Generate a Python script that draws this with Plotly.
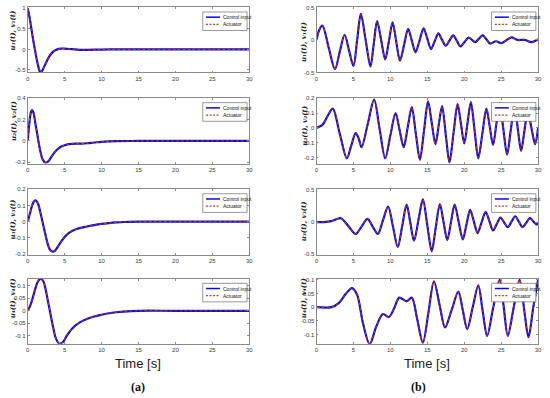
import plotly.graph_objects as go

W, H = 550, 398

# ---------------- data ----------------
time_ticks = [0, 5, 10, 15, 20, 25, 30]

# (a) column
a1_t = [0, 0.25, 0.5, 0.75, 1.0, 1.25, 1.5, 1.7, 1.9, 2.2, 2.6, 3.0, 3.5, 4.0, 4.5, 5.0, 6.0, 7.0, 8.0, 10, 12, 15, 20, 25, 30]
a1_v = [1.0, 0.78, 0.5, 0.22, -0.03, -0.27, -0.46, -0.555, -0.54, -0.43, -0.28, -0.15, -0.05, 0.0, 0.02, 0.02, 0.005, -0.01, -0.012, -0.004, 0, 0, 0, 0, 0]

a2_t = [0, 0.2, 0.4, 0.6, 0.8, 1.0, 1.3, 1.6, 2.0, 2.4, 2.8, 3.2, 3.6, 4.0, 4.5, 5.0, 5.5, 6.0, 7.0, 8.0, 9.0, 10, 11, 12, 15, 20, 30]
a2_v = [0, 0.15, 0.26, 0.29, 0.26, 0.18, 0.06, -0.06, -0.17, -0.205, -0.19, -0.15, -0.11, -0.08, -0.055, -0.04, -0.03, -0.027, -0.025, -0.022, -0.015, -0.008, -0.004, -0.002, 0, 0, 0]

a3_t = [0, 0.3, 0.6, 0.9, 1.1, 1.4, 1.7, 2.0, 2.4, 2.8, 3.1, 3.4, 3.7, 4.0, 4.5, 5.0, 5.5, 6.0, 7.0, 8.0, 9.0, 10, 11, 12, 13, 15, 20, 30]
a3_v = [0, 0.05, 0.1, 0.128, 0.13, 0.11, 0.06, 0.0, -0.08, -0.15, -0.178, -0.185, -0.178, -0.16, -0.125, -0.095, -0.072, -0.057, -0.04, -0.03, -0.021, -0.014, -0.009, -0.005, -0.002, 0, 0, 0]

a4_t = [0, 0.4, 0.8, 1.2, 1.5, 1.8, 2.1, 2.4, 2.7, 3.0, 3.4, 3.8, 4.3, 4.8, 5.3, 6.0, 7.0, 8.0, 9.0, 10, 11, 12, 13, 15, 20, 30]
a4_v = [0, 0.025, 0.065, 0.105, 0.123, 0.128, 0.12, 0.09, 0.045, 0.0, -0.06, -0.11, -0.133, -0.125, -0.1, -0.072, -0.048, -0.033, -0.023, -0.016, -0.01, -0.006, -0.003, 0, 0, 0]

# (b) column
b1_t = [0, 0.35, 0.8, 1.65, 2.5, 3.15, 3.8, 4.4, 5.0, 5.5, 6.0, 6.65, 7.3, 7.75, 8.2, 8.75, 9.3, 9.8, 10.3, 10.8, 11.3, 11.85, 12.4, 12.9, 13.4, 13.95, 14.5, 15.0, 15.5, 16.0, 16.5, 17.0, 17.5, 18.0, 18.5, 19.0, 19.5, 20.05, 20.6, 21.05, 21.5, 22.0, 22.5, 23.0, 23.5, 24.3, 25.0, 25.7, 26.4, 27.2, 28.2, 29.1, 30]
b1_v = [0, 0.15, 0.22, -0.12, -0.45, -0.18, 0.08, -0.16, -0.40, 0.0, 0.40, 0.0, -0.41, -0.06, 0.29, 0.0, -0.30, -0.02, 0.27, -0.03, -0.32, -0.08, 0.17, -0.01, -0.19, -0.01, 0.18, 0.02, -0.14, -0.02, 0.10, 0.0, -0.09, -0.01, 0.07, -0.015, -0.10, -0.03, 0.035, 0.0, -0.035, 0.02, 0.07, 0.01, -0.055, -0.02, -0.05, -0.005, 0.04, 0.0, 0.0, -0.035, 0.01]

b2_t = [0, 0.8, 1.5, 2.2, 3.15, 4.1, 4.7, 5.3, 5.7, 6.1, 6.95, 7.8, 8.55, 9.3, 10.0, 10.7, 11.25, 11.8, 12.35, 12.9, 13.45, 14.0, 14.55, 15.1, 15.6, 16.1, 16.55, 17.0, 17.5, 18.0, 18.55, 19.1, 19.55, 20.0, 20.45, 20.9, 21.4, 21.9, 22.45, 23.0, 23.45, 23.9, 24.35, 24.8, 25.3, 25.8, 26.3, 26.8, 27.25, 27.7, 28.15, 28.6, 29.1, 29.6, 30]
b2_v = [0, 0.02, 0.08, 0.13, -0.04, -0.205, -0.12, -0.035, -0.07, -0.13, 0.03, 0.19, -0.01, -0.205, -0.05, 0.10, -0.015, -0.13, 0.005, 0.14, -0.04, -0.215, -0.02, 0.178, 0.035, -0.11, 0.02, 0.147, -0.045, -0.233, -0.035, 0.16, 0.03, -0.104, 0.035, 0.173, -0.015, -0.205, -0.04, 0.13, 0.01, -0.115, 0.025, 0.165, -0.01, -0.18, -0.015, 0.15, -0.005, -0.155, -0.02, 0.11, 0.0, -0.11, 0.0]

b3_t = [0, 1.0, 2.0, 2.6, 3.3, 4.3, 5.3, 6.1, 6.9, 7.6, 8.3, 9.0, 9.7, 10.35, 11.0, 11.6, 12.2, 12.7, 13.2, 13.8, 14.4, 15.0, 15.6, 16.15, 16.7, 17.2, 17.7, 18.2, 18.7, 19.25, 19.8, 20.3, 20.8, 21.3, 21.8, 22.35, 22.9, 23.4, 23.9, 24.4, 24.9, 25.4, 25.9, 26.4, 26.9, 27.4, 27.9, 28.4, 28.9, 29.35, 29.8, 30]
b3_v = [0, 0.0, 0.015, 0.04, 0.06, -0.06, -0.185, -0.07, 0.05, -0.07, -0.185, 0.03, 0.24, -0.07, -0.385, -0.06, 0.27, -0.01, -0.29, 0.03, 0.35, -0.05, -0.45, -0.08, 0.28, 0.0, -0.28, -0.005, 0.27, 0.0, -0.27, -0.04, 0.19, 0.01, -0.17, -0.005, 0.16, 0.015, -0.13, -0.03, 0.07, -0.005, -0.08, 0.005, 0.09, 0.005, -0.08, -0.01, 0.06, 0.01, -0.04, -0.01]

b4_t = [0, 2.0, 3.0, 4.0, 4.8, 5.5, 6.3, 7.2, 8.1, 9.0, 9.8, 10.5, 11.2, 12.2, 12.9, 13.6, 14.4, 15.15, 15.9, 16.65, 17.4, 18.3, 19.2, 19.8, 20.4, 21.15, 21.9, 22.5, 23.1, 23.9, 24.8, 25.35, 25.9, 26.7, 27.5, 28.1, 28.7, 29.35, 30]
b4_v = [0, 0.0, 0.015, 0.05, 0.07, 0.045, -0.06, -0.135, -0.07, -0.025, -0.036, -0.005, 0.035, 0.022, 0.035, -0.04, -0.13, -0.02, 0.095, 0.01, -0.074, -0.01, 0.057, -0.01, -0.08, 0.0, 0.08, -0.015, -0.105, -0.005, 0.1, 0.0, -0.105, 0.0, 0.1, -0.005, -0.11, 0.0, 0.1]

# actuator output coincides with the control input in every panel
a1_act, a2_act, a3_act, a4_act = list(a1_v), list(a2_v), list(a3_v), list(a4_v)
b1_act, b2_act, b3_act, b4_act = list(b1_v), list(b2_v), list(b3_v), list(b4_v)

a1_yticks = [-0.5, 0, 0.5, 1]
a1_ylabels = ["-0.5", "0", "0.5", "1"]
a2_yticks = [-0.2, 0, 0.2, 0.4]
a2_ylabels = ["-0.2", "0", "0.2", "0.4"]
a3_yticks = [-0.2, -0.1, 0, 0.1, 0.2]
a3_ylabels = ["-0.2", "-0.1", "0", "0.1", "0.2"]
a4_yticks = [-0.1, -0.05, 0, 0.05, 0.1]
a4_ylabels = ["-0.1", "-0.05", "0", "0.05", "0.1"]
b1_yticks = [-0.5, 0, 0.5]
b1_ylabels = ["-0.5", "0", "0.5"]
b2_yticks = [-0.2, -0.1, 0, 0.1, 0.2]
b2_ylabels = ["-0.2", "-0.1", "0", "0.1", "0.2"]
b3_yticks = [-0.5, 0, 0.5]
b3_ylabels = ["-0.5", "0", "0.5"]
b4_yticks = [-0.1, -0.05, 0, 0.05, 0.1]
b4_ylabels = ["-0.1", "-0.05", "0", "0.05", "0.1"]

series_names = ["Control input", "Actuator"]
y_titles = ["u₁(t), v₁(t)", "u₂(t), v₂(t)", "u₃(t), v₃(t)", "u₄(t), v₄(t)"]

# ---------------- layout helpers ----------------
panels = [
    (0, 0, a1_t, a1_v, a1_act, a1_yticks, a1_ylabels, [-0.56, 1.02], 0),
    (0, 1, a2_t, a2_v, a2_act, a2_yticks, a2_ylabels, [-0.212, 0.402], 1),
    (0, 2, a3_t, a3_v, a3_act, a3_yticks, a3_ylabels, [-0.203, 0.2], 2),
    (0, 3, a4_t, a4_v, a4_act, a4_yticks, a4_ylabels, [-0.133, 0.129], 3),
    (1, 0, b1_t, b1_v, b1_act, b1_yticks, b1_ylabels, [-0.5, 0.5], 0),
    (1, 1, b2_t, b2_v, b2_act, b2_yticks, b2_ylabels, [-0.24, 0.201], 1),
    (1, 2, b3_t, b3_v, b3_act, b3_yticks, b3_ylabels, [-0.505, 0.51], 2),
    (1, 3, b4_t, b4_v, b4_act, b4_yticks, b4_ylabels, [-0.134, 0.104], 3),
]

col_px = [(26, 250), (318, 542)]
row_px = [(4.5, 70.5), (96.5, 163), (189, 255.5), (280, 346)]
ylab_x = [11, 305]
ylab_y = [[28, 120, 220, 300], [40, 125, 222, 300]]

BLUE = "#0a0ad8"
RED = "#c0401a"
AX = "#8a8a8a"
TICKF = dict(family="Liberation Sans, Arial, sans-serif", size=6, color="#3a3a3a")

fig = go.Figure()
shapes, annotations = [], []
layout_axes = {}

for i, (col, row, t, u, act, yt, yl, yr, k) in enumerate(panels):
    n = i + 1
    sfx = "" if n == 1 else str(n)
    xa, ya = "x" + sfx, "y" + sfx
    fig.add_trace(go.Scatter(x=t, y=u, xaxis=xa, yaxis=ya, mode="lines", name=series_names[0],
                             line=dict(color=BLUE, width=2.2, shape="spline", smoothing=0.9),
                             showlegend=False))
    fig.add_trace(go.Scatter(x=t, y=act, xaxis=xa, yaxis=ya, mode="lines", name=series_names[1],
                             line=dict(color=RED, width=1.0, dash="3px,2px", shape="spline", smoothing=0.9),
                             showlegend=False))
    x0, x1 = col_px[col]
    y0, y1 = row_px[row]
    common = dict(showline=True, linecolor=AX, linewidth=0.8, mirror="ticks", ticks="inside",
                  ticklen=2, tickcolor=AX, tickwidth=0.6, showgrid=False, zeroline=False,
                  tickfont=TICKF)
    layout_axes["xaxis" + sfx] = dict(domain=[x0 / W, x1 / W], range=[0, 30], anchor=ya,
                                      tickvals=time_ticks, ticktext=[str(v) for v in time_ticks], **common)
    layout_axes["yaxis" + sfx] = dict(domain=[1 - y1 / H, 1 - y0 / H], range=yr, anchor=xa,
                                      tickvals=yt, ticktext=yl, **common)

    # legend box (drawn in axis-domain coordinates)
    xd, yd = xa + " domain", ya + " domain"
    shapes.append(dict(type="rect", xref=xd, yref=yd, x0=0.79, x1=0.99, y0=0.645, y1=0.93,
                       line=dict(color="#555555", width=0.6), fillcolor="white", layer="above"))
    shapes.append(dict(type="line", xref=xd, yref=yd, x0=0.805, x1=0.868, y0=0.85, y1=0.85,
                       line=dict(color=BLUE, width=1.5), layer="above"))
    shapes.append(dict(type="line", xref=xd, yref=yd, x0=0.805, x1=0.868, y0=0.74, y1=0.74,
                       line=dict(color=RED, width=1.2, dash="2px,1.5px"), layer="above"))
    for yy, txt in [(0.85, series_names[0]), (0.74, series_names[1])]:
        annotations.append(dict(xref=xd, yref=yd, x=0.873, y=yy, text=txt, showarrow=False,
                                xanchor="left", yanchor="middle",
                                font=dict(family="Liberation Sans Narrow, Liberation Sans, sans-serif",
                                          size=5, color="#111111")))
    annotations.append(dict(xref="paper", yref="paper", x=ylab_x[col] / W, y=1 - ylab_y[col][row] / H,
                            text=y_titles[k], textangle=-90, showarrow=False,
                            xanchor="center", yanchor="middle",
                            font=dict(family="DejaVu Serif, Liberation Serif, serif", size=7,
                                      weight="bold", style="italic", color="#222222")))

for cx, lab in [(138, "(a)"), (421, "(b)")]:
    annotations.append(dict(xref="paper", yref="paper", x=cx / W, y=1 - 390 / H, text=lab,
                            showarrow=False, xanchor="center", yanchor="middle",
                            font=dict(family="Liberation Serif, DejaVu Serif, serif", size=12,
                                      weight="bold", color="#111111")))
for cx in [138, 430]:
    annotations.append(dict(xref="paper", yref="paper", x=cx / W, y=1 - 366 / H, text="Time [s]",
                            showarrow=False, xanchor="center", yanchor="middle",
                            font=dict(family="Liberation Sans Narrow, Liberation Sans, sans-serif", size=13,
                                      color="#222222")))

fig.update_layout(width=W, height=H, margin=dict(l=0, r=0, t=0, b=0),
                  paper_bgcolor="white", plot_bgcolor="white",
                  shapes=shapes, annotations=annotations, showlegend=False, **layout_axes)

fig.write_html("out.html", config={"displayModeBar": False},
               post_script="document.body.style.margin='0';document.body.style.overflow='hidden';")
